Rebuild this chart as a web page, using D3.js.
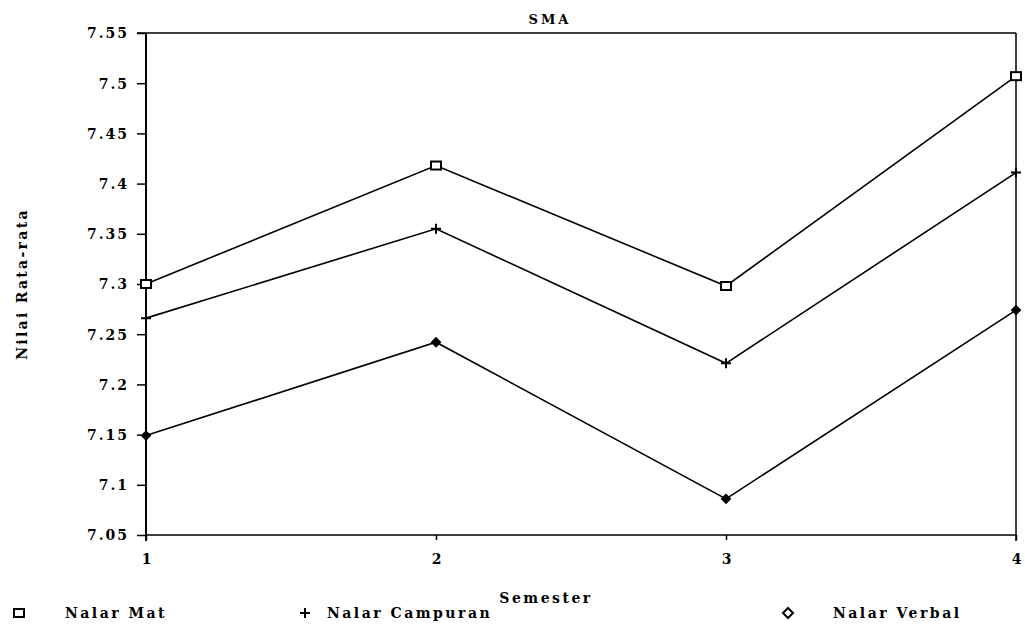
<!DOCTYPE html>
<html><head><meta charset="utf-8">
<script src="https://cdn.jsdelivr.net/npm/d3@7"></script>
<style>
body{margin:0;background:#fff;}
text{font-family:"DejaVu Serif",serif;font-weight:bold;fill:#000;}
</style></head>
<body><svg id="c" width="1025" height="641"></svg>
<script>
const semesters = [1, 2, 3, 4];
const nalarMat = [7.300, 7.418, 7.298, 7.507];
const nalarCampuran = [7.266, 7.355, 7.221, 7.411];
const nalarVerbal = [7.149, 7.242, 7.086, 7.274];
const yTicks = [7.05, 7.1, 7.15, 7.2, 7.25, 7.3, 7.35, 7.4, 7.45, 7.5, 7.55];
const seriesNames = ["Nalar Mat", "Nalar Campuran", "Nalar Verbal"];
const markerTypes = ["square", "plus", "diamond"];

const svg = d3.select("#c");
const L = 146, R = 1016, T = 33, B = 535;
const x = d3.scaleLinear().domain([1, 4]).range([L, R]);
const y = d3.scaleLinear().domain([7.05, 7.55]).range([B, T]);

// frame: top and right
svg.append("line").attr("x1", L - 9).attr("x2", R).attr("y1", T).attr("y2", T).attr("stroke", "#000").attr("stroke-width", 1.5);
svg.append("line").attr("x1", R).attr("x2", R).attr("y1", T).attr("y2", B + 6).attr("stroke", "#000").attr("stroke-width", 1.5);

// y axis
const yAxis = d3.axisLeft(y).tickValues(yTicks).tickFormat(d => d3.format("")(+d.toFixed(2))).tickSize(9).tickPadding(8);
const gy = svg.append("g").attr("transform", `translate(${L},0)`).call(yAxis);
gy.select(".domain").attr("stroke-width", 2).attr("d", `M0,${T}V${B + 6}`);
gy.selectAll(".tick line").attr("stroke-width", 1.5);
gy.selectAll("text").style("font-size", "14px").style("letter-spacing", "2px").attr("dy", "0.35em");

// x axis
const xAxis = d3.axisBottom(x).tickValues(semesters).tickFormat(d3.format("d")).tickSize(5).tickPadding(14);
const gx = svg.append("g").attr("transform", `translate(0,${B})`).call(xAxis);
gx.select(".domain").attr("stroke-width", 1.5).attr("d", `M${L},0H${R}`);
gx.selectAll(".tick line").attr("stroke-width", 1.5);
gx.selectAll("text").style("font-size", "14px");

// title and axis labels
svg.append("text").attr("x", 550).attr("y", 24).attr("text-anchor", "middle").style("font-size", "13px").style("letter-spacing", "3px").text("SMA");
svg.append("text").attr("x", 546).attr("y", 603).attr("text-anchor", "middle").style("font-size", "14px").style("letter-spacing", "2.5px").text("Semester");
svg.append("text").attr("transform", "translate(27,284) rotate(-90)").attr("text-anchor", "middle").style("font-size", "14px").style("letter-spacing", "2.3px").text("Nilai Rata-rata");

function marker(g, type, cx, cy, legend) {
  if (type === "square") {
    g.append("rect").attr("x", cx - 5).attr("y", cy - 4).attr("width", 10).attr("height", 8).attr("fill", "#fff").attr("stroke", "#000").attr("stroke-width", 2);
  } else if (type === "plus") {
    g.append("path").attr("d", `M${cx - 5},${cy}H${cx + 5}M${cx},${cy - 5}V${cy + 5}`).attr("stroke", "#000").attr("stroke-width", 2);
  } else {
    const s = legend ? 5 : 4;
    g.append("path").attr("d", `M${cx},${cy - s}L${cx + s},${cy}L${cx},${cy + s}L${cx - s},${cy}Z`).attr("fill", legend ? "#fff" : "#000").attr("stroke", "#000").attr("stroke-width", 2);
  }
}

const allSeries = [nalarMat, nalarCampuran, nalarVerbal];
const line = d3.line().x((d, i) => x(semesters[i])).y(d => y(d));
allSeries.forEach((vals, si) => {
  svg.append("path").datum(vals).attr("d", line).attr("fill", "none").attr("stroke", "#000").attr("stroke-width", 1.6);
  const g = svg.append("g");
  vals.forEach((v, i) => marker(g, markerTypes[si], x(semesters[i]), y(v), false));
});

// legend
const legX = [19, 305, 788];
const legTextX = [65, 327, 833];
const legY = 613;
seriesNames.forEach((n, i) => {
  const g = svg.append("g");
  marker(g, markerTypes[i], legX[i], legY, true);
  svg.append("text").attr("x", legTextX[i]).attr("y", legY + 5).style("font-size", "14px").style("letter-spacing", "2.5px").text(n);
});
</script></body></html>
